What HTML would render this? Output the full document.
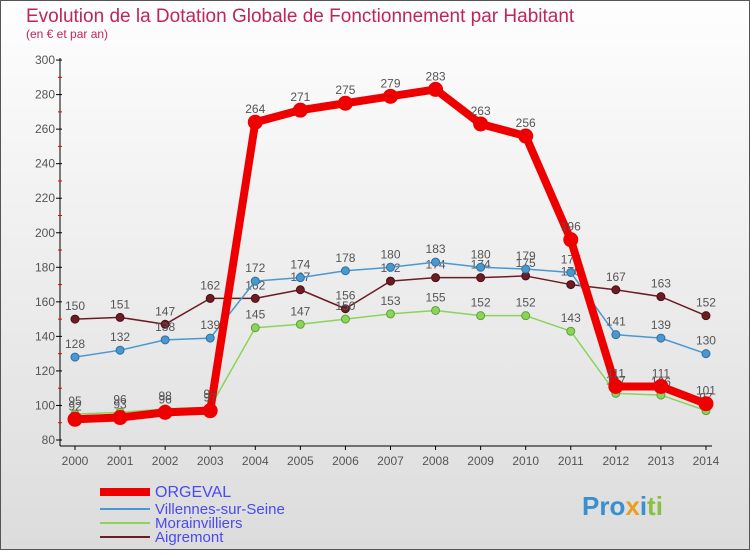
<!DOCTYPE html>
<html><head><meta charset="utf-8"><style>
body{margin:0;width:750px;height:550px;overflow:hidden;font-family:"Liberation Sans",sans-serif}
</style></head><body>
<svg id="c" width="750" height="550" xmlns="http://www.w3.org/2000/svg">
<defs><linearGradient id="bg" x1="0" y1="0" x2="0" y2="1"><stop offset="0" stop-color="#fefefe"/><stop offset="1" stop-color="#dcdcdc"/></linearGradient></defs>
<rect x="0.5" y="0.5" width="749" height="549" fill="url(#bg)" stroke="#555"/>
<text x="26" y="22" font-size="19" fill="#c0255a">Evolution de la Dotation Globale de Fonctionnement par Habitant</text>
<text x="26" y="38" font-size="12" fill="#c0255a">(en € et par an)</text>
<g id="axes"></g><g id="series"></g><g id="legend"></g>
</svg>
<script>
const years=[2000,2001,2002,2003,2004,2005,2006,2007,2008,2009,2010,2011,2012,2013,2014];
const orgeval=[92,93,96,97,264,271,275,279,283,263,256,196,111,111,101];
const villennes=[128,132,138,139,172,174,178,180,183,180,179,177,141,139,130];
const morain=[95,96,98,99,145,147,150,153,155,152,152,143,107,106,97];
const aigremont=[150,151,147,162,162,167,156,172,174,174,175,170,167,163,152];
const yTicks=[80,100,120,140,160,180,200,220,240,260,280,300];
const NS="http://www.w3.org/2000/svg";
const X=i=>75+i*45.07, Y=v=>440-(v-80)*1.727;
function mk(t,a,p){const e=document.createElementNS(NS,t);for(const k in a)e.setAttribute(k,a[k]);p.appendChild(e);return e;}
const ax=document.getElementById('axes');
let l=mk('line',{x1:60,y1:58,x2:60,y2:446,stroke:'#000'},ax);


l=mk('line',{x1:60,y1:446,x2:712,y2:446,stroke:'#000'},ax);


yTicks.forEach((v,i)=>{
 mk('line',{x1:56,y1:Y(v),x2:62,y2:Y(v),stroke:'#000'},ax);
 if(i<yTicks.length-1)mk('line',{x1:58,y1:Y(v+10),x2:62,y2:Y(v+10),stroke:'#e00'},ax);
 const t=mk('text',{x:55,y:Y(v)+4,'font-size':12,fill:'#555','text-anchor':'end'},ax);t.textContent=v;
 
 
});
years.forEach((y,i)=>{
 mk('line',{x1:X(i),y1:446,x2:X(i),y2:450,stroke:'#000'},ax);
 const t=mk('text',{x:X(i),y:465,'font-size':12,fill:'#555','text-anchor':'middle'},ax);t.textContent=y;
 
 
});
const sg=document.getElementById('series');
function series(d,col,w,r,name,dark){
 const g=mk('g',{},sg);
 
 
 mk('polyline',{points:d.map((v,i)=>X(i)+','+Y(v)).join(' '),fill:'none',stroke:col,'stroke-width':w,'stroke-linejoin':'round'},g);
 d.forEach((v,i)=>{
  const c=mk('circle',{cx:X(i),cy:Y(v),r:r,fill:col,stroke:dark,'stroke-width':1},g);
  
  
  const t=mk('text',{x:X(i),y:Y(v)-9,'font-size':12,fill:'#555','text-anchor':'middle'},g);t.textContent=v;
 });
}
series(aigremont,'#6b1c24',1.5,4,'series-aigremont','#4a1016');
series(villennes,'#4a98d0',1.5,4,'series-villennes','#2f6fa0');
series(morain,'#8ad45a',1.5,4,'series-morainvilliers','#5fa035');
series(orgeval,'#ee0000',8,7,'series-orgeval','#ee0000');
const lg=document.getElementById('legend');
[['ORGEVAL','#ee0000',8,492,16],['Villennes-sur-Seine','#4a98d0',2,509,15],['Morainvilliers','#8ad45a',2,523,15],['Aigremont','#6b1c24',2,537,15]].forEach(e=>{
 const g=mk('g',{},lg);
 
 
 mk('line',{x1:100,y1:e[3],x2:150,y2:e[3],stroke:e[1],'stroke-width':e[2]},g);
 const t=mk('text',{x:155,y:e[3]+5,'font-size':e[4],fill:'#4a4af0'},g);t.textContent=e[0];
});
const p=mk('text',{x:582,y:515,'font-size':26,'font-weight':'bold',fill:'#3a8fd0'},lg);
p.innerHTML='<tspan fill="#3a8fd0">Pro</tspan><tspan fill="#e8a020">x</tspan><tspan fill="#3a8fd0">i</tspan><tspan fill="#8ac040">ti</tspan>';


</script>
</body></html>
